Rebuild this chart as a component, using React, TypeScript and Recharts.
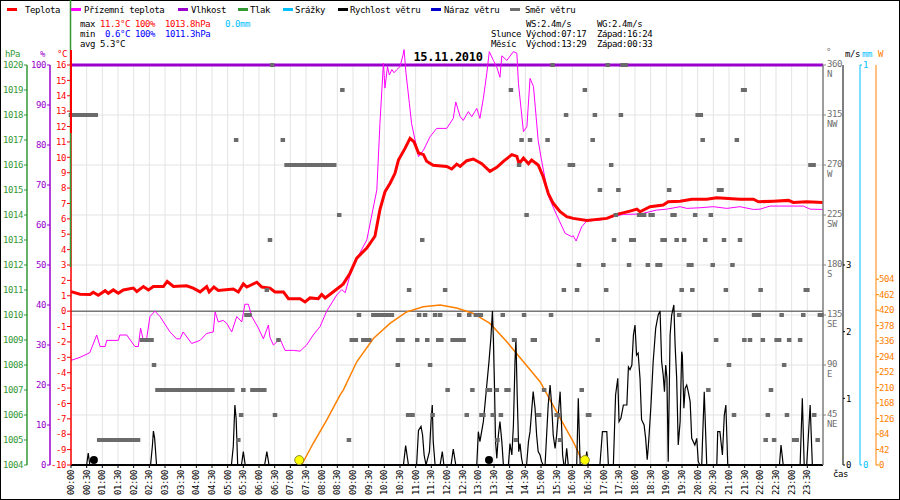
import React from "react";
import {
  CartesianGrid,
  ComposedChart,
  Line,
  ReferenceLine,
  Scatter,
  XAxis,
  YAxis,
} from "recharts";

const MONO = '"DejaVu Sans Mono", "Liberation Mono", monospace';

// hours since midnight -> value
const temperature: [number, number][] = [
  [0, 1.27], [0.29, 1.1], [0.61, 1.08], [0.71, 1.23], [0.87, 1.03], [1.09, 1.33], [1.19, 1.16],
  [1.35, 1.38], [1.51, 1.16], [1.67, 1.38], [1.99, 1.5], [2.1, 1.27], [2.31, 1.6], [2.47, 1.38],
  [2.63, 1.6], [2.95, 1.6], [3.07, 1.93], [3.27, 1.6], [3.69, 1.65], [3.9, 1.5], [4.12, 1.25],
  [4.33, 1.6], [4.41, 1.25], [4.56, 1.57], [4.7, 1.35], [5.18, 1.44], [5.34, 1.25], [5.5, 1.77],
  [5.61, 1.57], [5.93, 1.88], [6.09, 1.57], [6.35, 1.5], [6.51, 1.25], [6.78, 1.25], [6.94, 0.81],
  [7.31, 0.81], [7.47, 0.6], [7.63, 0.86], [7.89, 0.81], [8.0, 1.08], [8.11, 0.86], [8.27, 1.1],
  [8.59, 1.6], [8.69, 1.77], [8.9, 2.45], [9.12, 3.45], [9.44, 4.1], [9.7, 4.87], [9.86, 6.6],
  [10.02, 7.76], [10.18, 8.3], [10.34, 8.96], [10.45, 9.82], [10.66, 10.58], [10.82, 11.23],
  [10.95, 11.0], [11.09, 10.28], [11.25, 10.17], [11.35, 9.74], [11.56, 9.48], [11.99, 9.41],
  [12.15, 9.24], [12.31, 9.56], [12.42, 9.41], [12.63, 9.78], [12.84, 9.89], [13.11, 9.58],
  [13.37, 9.09], [13.59, 9.35], [13.8, 9.74], [14.07, 10.17], [14.23, 10.06], [14.3, 9.58],
  [14.44, 9.95], [14.6, 9.58], [14.7, 9.82], [14.91, 9.5], [15.07, 8.74], [15.23, 7.66],
  [15.39, 7.01], [15.61, 6.47], [15.82, 6.14], [16.03, 6.03], [16.46, 5.9], [17.1, 6.03],
  [17.42, 6.29], [17.84, 6.5], [18.06, 6.63], [18.16, 6.46], [18.48, 6.79], [18.9, 6.9],
  [19.06, 7.11], [19.44, 7.15], [19.81, 7.28], [20.29, 7.28], [20.61, 7.37], [21.35, 7.28],
  [21.78, 7.28], [21.94, 7.11], [22.42, 7.15], [22.9, 7.2], [23.05, 7.07], [23.48, 7.11], [24, 7.07],
];

const groundTemp: [number, number][] = [
  [0, -3.2], [0.29, -3.0], [0.6, -2.7], [0.82, -1.55], [0.93, -2.3], [1.09, -2.3], [1.14, -1.9],
  [1.51, -1.9], [1.56, -1.55], [1.78, -1.55], [2.04, -2.3], [2.15, -2.3], [2.22, -1.1], [2.31, -1.9],
  [2.41, -1.85], [2.52, -0.35], [2.68, 0], [2.84, -0.35], [3.16, -1.35], [3.37, -1.8], [3.48, -1.8],
  [3.58, -1.35], [3.85, -2.1], [4.12, -1.9], [4.33, -1.45], [4.54, -1.35], [4.6, -0.05], [4.7, -0.7],
  [4.86, -0.6], [4.97, -0.8], [5.13, -1.35], [5.29, -0.35], [5.45, -0.7], [5.55, 0.45], [5.66, 0.45],
  [5.77, -0.35], [5.98, -1.1], [6.14, -1.8], [6.3, -0.9], [6.35, -1.7], [6.46, -2.2], [6.67, -1.8],
  [6.83, -2.55], [7.1, -2.55], [7.31, -2.6], [7.52, -2.2], [7.73, -1.55], [7.95, -1.0], [8.16, 0],
  [8.48, 1.05], [8.64, 1.4], [8.75, 1.2], [8.9, 2.3], [9.12, 3.4], [9.44, 4.63], [9.6, 6.25],
  [9.76, 7.88], [9.86, 12.2], [9.97, 16.1], [10.02, 14.5], [10.1, 15.9], [10.16, 15.35],
  [10.24, 15.7], [10.31, 15.5], [10.4, 15.7], [10.5, 15.9], [10.59, 16.6], [10.63, 17.0],
  [10.69, 15.5], [10.8, 13.5], [10.87, 12.2], [11.09, 10.04], [11.25, 10.47], [11.46, 11.34],
  [11.67, 11.88], [11.99, 11.88], [12.2, 12.53], [12.28, 13.6], [12.42, 12.64], [12.52, 12.4],
  [12.68, 12.97], [12.79, 12.64], [12.95, 13.18], [13.05, 12.53], [13.16, 13.83], [13.27, 15.46],
  [13.35, 16.87], [13.48, 16.3], [13.6, 15.8], [13.69, 15.2], [13.75, 16.6], [13.91, 16.3],
  [14.12, 16.87], [14.23, 16.76], [14.28, 14.8], [14.44, 11.67], [14.55, 11.99], [14.65, 15.13],
  [14.76, 14.6], [14.91, 11.1], [15.0, 10.0], [15.23, 7.5], [15.5, 6.25], [15.77, 5.06],
  [15.98, 4.84], [16.03, 4.9], [16.12, 4.56], [16.3, 5.49], [16.46, 5.86], [16.88, 5.92],
  [17.31, 6.14], [17.63, 6.29], [18.16, 6.31], [18.69, 6.57], [19.01, 6.63], [19.44, 6.79],
  [19.65, 6.68], [20.07, 6.72], [20.5, 6.79], [20.93, 6.68], [21.35, 6.79], [21.78, 6.61],
  [21.99, 6.63], [22.31, 6.83], [23.37, 6.83], [23.59, 6.63], [24, 6.61],
];

const humidity: [number, number][] = [[0, 100], [24, 100]];
const precipitation: [number, number][] = [[0, 0], [24, 0]];

const windSpeed: [number, number][] = [
  [0, 0], [0.5, 0], [0.55, 0.18], [0.6, 0],
  [2.54, 0], [2.6, 0.3], [2.63, 0.51], [2.67, 0.4], [2.73, 0],
  [5.12, 0], [5.18, 0.28], [5.23, 0.9], [5.27, 0.7], [5.32, 0],
  [5.44, 0], [5.5, 0.2], [5.56, 0], [6.18, 0], [6.25, 0.2], [6.32, 0],
  [10.61, 0], [10.68, 0.29], [10.77, 0],
  [11.03, 0], [11.09, 0.52], [11.17, 0.58], [11.22, 0.45], [11.27, 0.15], [11.33, 0],
  [11.44, 0.2], [11.49, 0.65], [11.53, 0.9], [11.56, 0.35], [11.62, 0],
  [11.78, 0], [11.85, 0.2], [11.9, 0], [12.13, 0], [12.2, 0.24], [12.28, 0],
  [12.95, 0], [13.0, 0.5], [13.05, 0.35], [13.16, 0.65], [13.27, 1.2], [13.34, 1.55], [13.4, 1.9],
  [13.45, 2.31], [13.48, 1.9], [13.51, 1.3], [13.55, 0.35], [13.59, 0.1], [13.64, 0.45],
  [13.69, 0.65], [13.75, 0.35], [13.8, 0],
  [13.96, 0], [14.01, 0.32], [14.07, 0.15], [14.12, 0.6], [14.17, 1.55], [14.2, 1.9], [14.24, 1.05],
  [14.29, 0.2], [14.33, 0.32], [14.38, 0.1], [14.42, 0],
  [14.54, 0], [14.6, 0.35], [14.65, 0.5], [14.7, 0.8], [14.75, 1.1], [14.81, 0.85], [14.86, 0.45],
  [14.91, 0.2], [14.97, 0.15], [15.02, 0.05], [15.07, 0],
  [15.13, 0], [15.18, 0.45], [15.23, 0.9], [15.29, 1.2], [15.34, 0.9], [15.39, 0.45], [15.45, 0.25],
  [15.5, 0.45], [15.55, 0.75], [15.61, 1.1], [15.66, 0.55], [15.69, 0.15], [15.73, 0],
  [15.77, 0], [15.82, 0.25], [15.87, 0], [16.14, 0], [16.19, 1.0], [16.25, 0],
  [16.4, 0], [16.46, 0.2], [16.51, 0],
  [16.88, 0], [16.96, 0.5], [17.1, 0.5], [17.15, 0],
  [17.31, 0], [17.38, 1.05], [17.45, 1.3], [17.49, 0.65], [17.55, 0.7], [17.63, 0.9], [17.74, 0.9],
  [17.79, 1.47], [17.84, 1.43], [17.9, 1.5], [17.95, 1.95], [18.0, 2.1], [18.05, 1.65], [18.1, 1.68],
  [18.16, 1.3], [18.21, 0.68], [18.29, 0.6], [18.34, 0.4], [18.39, 0.08], [18.42, 0.25],
  [18.45, 0.45], [18.51, 0.9], [18.58, 1.55], [18.66, 2.05], [18.74, 2.25], [18.8, 2.31],
  [18.85, 1.55], [18.9, 1.35], [18.94, 1.1], [18.98, 1.5], [19.02, 1.3], [19.06, 0.05],
  [19.12, 1.95], [19.17, 2.25], [19.24, 2.4], [19.28, 1.8], [19.33, 1.3], [19.38, 0.3], [19.44, 0.65],
  [19.49, 1.7], [19.51, 1.65], [19.56, 0.85], [19.6, 1.15], [19.65, 1.2], [19.7, 1.1], [19.76, 0.95],
  [19.81, 0.4], [19.91, 0.3], [19.97, 0.4], [20.02, 0.05], [20.07, 0],
  [20.13, 0], [20.15, 0.3], [20.21, 1.1], [20.29, 0],
  [20.61, 0], [20.64, 0.5], [20.71, 0.5], [20.79, 0.15], [20.85, 0.75], [20.9, 0.9], [20.96, 0],
  [22.61, 0], [22.66, 0.3], [22.73, 0],
  [23.27, 0], [23.34, 1.0], [23.4, 0], [23.48, 0], [23.59, 0.9], [23.66, 0], [24, 0],
];

const solar: [number, number][] = [
  [7.36, 0], [7.73, 59], [8.16, 122], [8.59, 190], [8.69, 203], [9.12, 280], [9.65, 343],
  [10.18, 384], [10.71, 415], [11.24, 429], [11.78, 434], [12.31, 426], [12.84, 411],
  [13.37, 384], [13.91, 334], [14.44, 280], [14.97, 226], [15.5, 144], [16.03, 63], [16.3, 14],
  [16.4, 0],
];

// [from hour, to hour, degrees] - a run of equal readings
const windDir: [number, number, number][] = [
  [0, 0.79, 315], [0.9, 2.14, 22.5], [2.26, 2.57, 112.5], [2.65, 2.65, 90], [2.76, 5.15, 67.5],
  [5.27, 5.27, 292.5], [5.34, 5.34, 22.5], [5.43, 5.43, 45], [5.5, 5.5, 67.5], [5.6, 5.7, 135],
  [5.79, 6.17, 67.5], [6.25, 6.25, 157.5], [6.35, 6.35, 202.5], [6.42, 6.42, 360], [6.51, 6.51, 45],
  [6.62, 6.62, 112.5], [6.76, 6.76, 292.5], [6.88, 8.4, 270], [8.56, 8.56, 225], [8.66, 8.66, 337.5],
  [8.87, 8.87, 22.5], [8.96, 9.09, 112.5], [9.19, 9.19, 135], [9.33, 9.52, 112.5], [9.65, 10.24, 135],
  [10.44, 10.58, 112.5], [10.43, 10.43, 90], [10.76, 10.9, 45], [10.79, 10.79, 157.5],
  [11.05, 11.05, 112.5], [11.11, 11.11, 135], [11.21, 11.21, 202.5], [11.3, 11.3, 135],
  [11.37, 11.37, 112.5], [11.46, 11.46, 90], [11.54, 11.54, 45], [11.62, 11.62, 135],
  [11.78, 11.78, 135], [11.72, 11.82, 112.5], [11.94, 11.94, 157.5], [12.02, 12.02, 67.5],
  [12.18, 12.53, 112.5], [12.39, 12.39, 135], [12.63, 12.63, 45], [12.71, 12.71, 135],
  [12.81, 12.81, 67.5], [12.92, 13.08, 135], [13.1, 13.16, 45], [13.3, 13.37, 67.5],
  [13.46, 13.46, 45], [13.59, 13.59, 67.5], [13.61, 13.61, 22.5], [13.72, 13.72, 45],
  [13.78, 13.78, 135], [13.9, 13.96, 67.5], [14.04, 14.04, 337.5], [14.14, 14.14, 112.5],
  [14.2, 14.2, 22.5], [14.3, 14.3, 270], [14.38, 14.38, 292.5], [14.46, 14.46, 135],
  [14.54, 14.54, 225], [14.65, 14.65, 292.5], [14.74, 14.8, 112.5], [14.9, 14.94, 45],
  [15.1, 15.1, 67.5], [15.21, 15.21, 292.5], [15.32, 15.32, 135], [15.37, 15.37, 360],
  [15.5, 15.56, 45], [15.61, 15.61, 22.5], [15.73, 15.73, 157.5], [15.8, 15.8, 315],
  [15.92, 16.02, 270], [16.15, 16.15, 157.5], [16.21, 16.21, 180], [16.3, 16.3, 67.5],
  [16.4, 16.4, 337.5], [16.5, 16.54, 45], [16.65, 16.65, 292.5], [16.72, 16.72, 315],
  [16.81, 16.81, 112.5], [16.88, 16.88, 247.5], [16.99, 16.99, 180], [17.08, 17.08, 157.5],
  [17.13, 17.13, 360], [17.24, 17.24, 270], [17.33, 17.33, 202.5], [17.39, 17.39, 225],
  [17.47, 17.47, 247.5], [17.55, 17.55, 315], [17.6, 17.7, 360], [17.81, 17.81, 180],
  [17.88, 17.96, 202.5], [18.13, 18.29, 225], [18.41, 18.41, 180], [18.5, 18.56, 225],
  [18.72, 18.8, 180], [18.88, 18.95, 202.5], [19.09, 19.09, 247.5], [19.2, 19.26, 225],
  [19.33, 19.33, 202.5], [19.41, 19.41, 135], [19.49, 19.49, 157.5], [19.57, 19.57, 202.5],
  [19.72, 19.8, 180], [19.83, 19.83, 157.5], [19.92, 19.92, 225], [20.0, 20.1, 315],
  [20.16, 20.16, 292.5], [20.24, 20.24, 202.5], [20.34, 20.34, 67.5], [20.42, 20.42, 225],
  [20.48, 20.48, 180], [20.59, 20.59, 112.5], [20.68, 20.76, 247.5], [20.84, 20.84, 202.5],
  [20.9, 20.9, 157.5], [21.0, 21.0, 90], [21.11, 21.11, 180], [21.16, 21.16, 45],
  [21.25, 21.25, 292.5], [21.35, 21.35, 202.5], [21.45, 21.5, 337.5], [21.49, 21.49, 112.5],
  [21.67, 21.67, 112.5], [21.8, 21.95, 135], [22.01, 22.01, 157.5], [22.08, 22.08, 112.5],
  [22.17, 22.17, 22.5], [22.24, 22.24, 45], [22.34, 22.34, 67.5], [22.44, 22.44, 22.5],
  [22.52, 22.6, 112.5], [22.68, 22.68, 135], [22.76, 22.76, 90], [22.85, 22.85, 45],
  [22.92, 22.92, 112.5], [23.08, 23.16, 22.5], [23.27, 23.27, 112.5], [23.37, 23.37, 135],
  [23.45, 23.5, 157.5], [23.6, 23.7, 270], [23.72, 23.72, 45], [23.83, 23.83, 22.5],
  [23.9, 23.95, 135],
];

const sunEvents = [7.283, 16.4]; // sunrise 07:17, sunset 16:24
const moonEvents = [0.73, 13.34];

const timeTicks = Array.from({ length: 48 }, (_, i) => i / 2);
const tempTicks = Array.from({ length: 27 }, (_, i) => i - 10);
const humTicks = Array.from({ length: 11 }, (_, i) => i * 10);
const hpaTicks = Array.from({ length: 17 }, (_, i) => 1004 + i);
const dirTicks = [45, 90, 135, 180, 225, 270, 315, 360];
const compass = ["NE", "E", "SE", "S", "SW", "W", "NW", "N"];
const msTicks = [0, 1, 2, 3];
const mmTicks = [0, 1];
const wTicks = Array.from({ length: 13 }, (_, i) => i * 42);

const legendItems: [string, number, number, string][] = [
  ["#ff0000", 7, 25, "Teplota"],
  ["#ff00ff", 71, 84, "Přízemní teplota"],
  ["#9900cc", 178, 191, "Vlhkost"],
  ["#339933", 238, 250, "Tlak"],
  ["#00bfff", 283, 295, "Srážky"],
  ["#000000", 338, 350, "Rychlost větru"],
  ["#0000cc", 431, 444, "Náraz větru"],
  ["#707070", 510, 525, "Směr větru"],
];

const PX_PER_HOUR = 752 / 24;
const EVENT_LEVEL = -9.68;

// axis ids sort in the order the axes sit outward from the plot
const T = "a_temp";
const HUM = "b_hum";
const HPA = "c_hpa";
const DIR = "d_dir";
const MS = "e_ms";
const MM = "f_mm";
const W = "g_w";

const toRows = (pts: [number, number][]) => pts.map(([t, v]) => ({ t, v }));
const dirRows = windDir.map(([t, end, deg]) => ({ t, end, deg }));
const sunRows = sunEvents.map((t) => ({ t, v: EVENT_LEVEL }));
const moonRows = moonEvents.map((t) => ({ t, v: EVENT_LEVEL }));

const pad = (n: number) => String(n).padStart(2, "0");
const fmtTime = (h: number) => `${pad(Math.floor(h))}:${pad(Math.round((h % 1) * 60))}`;

const TimeTick = ({ x, y, payload }: any) => (
  <text
    x={x}
    y={y}
    transform={`rotate(-90 ${x} ${y})`}
    textAnchor="end"
    dominantBaseline="central"
    fill="#000"
  >
    {fmtTime(payload.value)}
  </text>
);

const DirTick = ({ x, y, payload }: any) => (
  <g fill="#707070">
    <text x={x} y={y + 2}>{payload.value}</text>
    <text x={x} y={y + 12}>{compass[dirTicks.indexOf(payload.value)]}</text>
  </g>
);

const DirMark = ({ cx, cy, payload }: any) => {
  if (cx == null || cy == null) return null;
  const w = 4.5 + (payload.end - payload.t) * PX_PER_HOUR;
  return <rect x={cx - 2.25} y={cy - 2} width={w} height={4} fill="#6b6b6b" />;
};

const SunMark = ({ cx, cy }: any) => (
  <circle cx={cx} cy={cy} r={4.5} fill="#ffff00" stroke="#8a8a30" strokeWidth={1} />
);
const MoonMark = ({ cx, cy }: any) => <circle cx={cx} cy={cy} r={4} fill="#000" />;

const tickFont = (fill: string) => ({ fill, fontSize: 9, fontFamily: MONO });

const Txt = ({ x, y, c = "#000", children }: any) => (
  <text x={x} y={y} fill={c}>{children}</text>
);

export default function App() {
  return (
    <div
      className="wx"
      style={{ position: "absolute", left: 0, top: 0, width: 900, height: 500, background: "#fff" }}
    >
      <style>{`
        .wx text { font-family: ${MONO}; font-size: 9px; letter-spacing: -0.4px; }
        .wx [clip-path] { clip-path: none !important; }
      `}</style>
      <ComposedChart width={900} height={500} margin={{ top: 65, right: 0, bottom: 0, left: 0 }}>
        <CartesianGrid xAxisId="time" yAxisId={DIR} stroke="#e3e3e3" />
        <XAxis
          xAxisId="time"
          dataKey="t"
          type="number"
          domain={[0, 24]}
          ticks={timeTicks}
          interval={0}
          height={35}
          tickSize={3}
          tickMargin={2}
          axisLine={{ stroke: "#000", strokeWidth: 2 }}
          tickLine={{ stroke: "#000" }}
          tick={(p: any) => <TimeTick {...p} />}
        />
        <YAxis
          yAxisId={T}
          orientation="left"
          width={21}
          type="number"
          domain={[-10, 16]}
          allowDataOverflow
          ticks={tempTicks}
          interval={0}
          tickSize={4}
          tickMargin={1}
          axisLine={{ stroke: "#ff0000", strokeWidth: 1.5 }}
          tickLine={{ stroke: "#ff0000" }}
          tick={tickFont("#ff0000")}
        />
        <YAxis
          yAxisId={HUM}
          orientation="left"
          width={23}
          type="number"
          domain={[0, 100]}
          allowDataOverflow
          ticks={humTicks}
          interval={0}
          tickSize={3}
          tickMargin={1}
          axisLine={{ stroke: "#9900cc", strokeWidth: 1.5 }}
          tickLine={{ stroke: "#9900cc" }}
          tick={tickFont("#9900cc")}
        />
        <YAxis
          yAxisId={HPA}
          orientation="left"
          width={27}
          type="number"
          domain={[1004, 1020]}
          allowDataOverflow
          ticks={hpaTicks}
          interval={0}
          tickSize={3}
          tickMargin={1}
          axisLine={{ stroke: "#339933", strokeWidth: 1.5 }}
          tickLine={{ stroke: "#339933" }}
          tick={tickFont("#339933")}
        />
        <YAxis
          yAxisId={DIR}
          orientation="right"
          width={20}
          type="number"
          domain={[0, 360]}
          allowDataOverflow
          ticks={dirTicks}
          interval={0}
          tickSize={3}
          tickMargin={1}
          axisLine={{ stroke: "#808080", strokeWidth: 1.5 }}
          tickLine={{ stroke: "#808080" }}
          tick={(p: any) => <DirTick {...p} />}
        />
        <YAxis
          yAxisId={MS}
          orientation="right"
          width={17}
          type="number"
          domain={[0, 6]}
          allowDataOverflow
          ticks={msTicks}
          interval={0}
          tickSize={2}
          tickMargin={1}
          axisLine={{ stroke: "#000" }}
          tickLine={{ stroke: "#000" }}
          tick={tickFont("#000")}
        />
        <YAxis
          yAxisId={MM}
          orientation="right"
          width={16}
          type="number"
          domain={[0, 1]}
          allowDataOverflow
          ticks={mmTicks}
          interval={0}
          tickSize={2}
          tickMargin={1}
          axisLine={{ stroke: "#00bfff" }}
          tickLine={{ stroke: "#00bfff" }}
          tick={tickFont("#00bfff")}
        />
        <YAxis
          yAxisId={W}
          orientation="right"
          width={24}
          type="number"
          domain={[0, 1085]}
          allowDataOverflow
          ticks={wTicks}
          interval={0}
          tickSize={3}
          tickMargin={0}
          axisLine={{ stroke: "#ff8000" }}
          tickLine={{ stroke: "#ff8000" }}
          tick={tickFont("#ff8000")}
        />
        <ReferenceLine xAxisId="time" yAxisId={T} y={0} stroke="#777" strokeWidth={1.5} />
        <Line
          data={toRows(solar)}
          xAxisId="time"
          yAxisId={W}
          dataKey="v"
          type="linear"
          stroke="#ff8000"
          strokeWidth={1.5}
          dot={false}
          isAnimationActive={false}
        />
        <Line
          data={toRows(humidity)}
          xAxisId="time"
          yAxisId={HUM}
          dataKey="v"
          type="linear"
          stroke="#9900cc"
          strokeWidth={3}
          dot={false}
          isAnimationActive={false}
        />
        <Line
          data={toRows(groundTemp)}
          xAxisId="time"
          yAxisId={T}
          dataKey="v"
          type="linear"
          stroke="#ff00ff"
          strokeWidth={1}
          dot={false}
          isAnimationActive={false}
        />
        <Line
          data={toRows(temperature)}
          xAxisId="time"
          yAxisId={T}
          dataKey="v"
          type="linear"
          stroke="#ff0000"
          strokeWidth={3}
          dot={false}
          isAnimationActive={false}
        />
        <Line
          data={toRows(precipitation)}
          xAxisId="time"
          yAxisId={MM}
          dataKey="v"
          type="linear"
          stroke="#00bfff"
          strokeWidth={2}
          dot={false}
          isAnimationActive={false}
        />
        <Line
          data={toRows(windSpeed)}
          xAxisId="time"
          yAxisId={MS}
          dataKey="v"
          type="linear"
          stroke="#000"
          strokeWidth={1.2}
          dot={false}
          isAnimationActive={false}
        />
        <Scatter
          data={dirRows}
          xAxisId="time"
          yAxisId={DIR}
          dataKey="deg"
          shape={(p: any) => <DirMark {...p} />}
          isAnimationActive={false}
        />
        <Scatter
          data={moonRows}
          xAxisId="time"
          yAxisId={T}
          dataKey="v"
          shape={(p: any) => <MoonMark {...p} />}
          isAnimationActive={false}
        />
        <Scatter
          data={sunRows}
          xAxisId="time"
          yAxisId={T}
          dataKey="v"
          shape={(p: any) => <SunMark {...p} />}
          isAnimationActive={false}
        />
      </ComposedChart>
      <svg
        width={900}
        height={500}
        style={{ position: "absolute", left: 0, top: 0, pointerEvents: "none" }}
      >
        <rect x={0.5} y={0.5} width={899} height={499} fill="none" stroke="#000" />
        <line x1={70.5} y1={0} x2={70.5} y2={267} stroke="#339933" strokeWidth={1.5} />
        <line x1={71} y1={50} x2={71} y2={133} stroke="#ff0000" strokeWidth={2} />
        {legendItems.map(([color, lx, tx, label]) => (
          <g key={label}>
            <rect x={lx} y={8} width={10} height={3} fill={color} />
            <Txt x={tx} y={12.5}>{label}</Txt>
          </g>
        ))}
        <Txt x={80} y={27}>max</Txt>
        <Txt x={100} y={27} c="#ff0000">11.3°C</Txt>
        <Txt x={135} y={27} c="#ff0000">100%</Txt>
        <Txt x={165} y={27} c="#ff0000">1013.8hPa</Txt>
        <Txt x={225} y={27} c="#00bfff">0.0mm</Txt>
        <Txt x={80} y={37}>min</Txt>
        <Txt x={105} y={37} c="#0000ff">0.6°C</Txt>
        <Txt x={135} y={37} c="#0000ff">100%</Txt>
        <Txt x={165} y={37} c="#0000ff">1011.3hPa</Txt>
        <Txt x={80} y={47}>avg</Txt>
        <Txt x={100} y={47}>5.3°C</Txt>
        <Txt x={526} y={27}>WS:2.4m/s</Txt>
        <Txt x={597} y={27}>WG:2.4m/s</Txt>
        <Txt x={491} y={37}>Slunce</Txt>
        <Txt x={526} y={37}>Východ:07:17</Txt>
        <Txt x={597} y={37}>Západ:16:24</Txt>
        <Txt x={491} y={47}>Měsíc</Txt>
        <Txt x={526} y={47}>Východ:13:29</Txt>
        <Txt x={597} y={47}>Západ:00:33</Txt>
        <text
          x={448}
          y={61}
          textAnchor="middle"
          fill="#000"
          style={{ fontSize: 12, fontWeight: "bold", letterSpacing: -0.3 }}
        >
          15.11.2010
        </text>
        <Txt x={5} y={57} c="#339933">hPa</Txt>
        <Txt x={40} y={57} c="#9900cc">%</Txt>
        <Txt x={57} y={57} c="#ff0000">°C</Txt>
        <Txt x={826} y={55} c="#707070">°</Txt>
        <Txt x={845} y={57}>m/s</Txt>
        <Txt x={862} y={57} c="#00bfff">mm</Txt>
        <Txt x={878} y={57} c="#ff8000">W</Txt>
        <Txt x={833} y={477}>čas</Txt>
      </svg>
    </div>
  );
}
